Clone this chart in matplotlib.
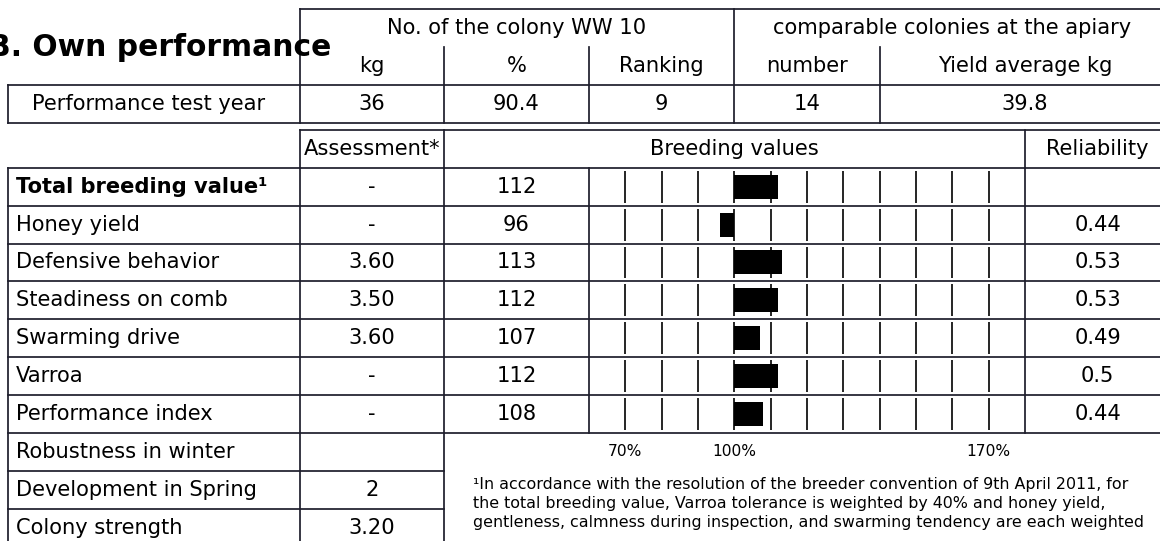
import matplotlib
matplotlib.use("Agg")
import matplotlib.pyplot as plt

# ---------------- data ----------------
title = "B. Own performance"
colony_header = "No. of the colony WW 10"
comparable_header = "comparable colonies at the apiary"
sub_headers = ["kg", "%", "Ranking", "number", "Yield average kg"]
perf_row_label = "Performance test year"
perf_values = ["36", "90.4", "9", "14", "39.8"]

trait_names = ["Total breeding value¹", "Honey yield", "Defensive behavior",
               "Steadiness on comb", "Swarming drive", "Varroa",
               "Performance index", "Robustness in winter",
               "Development in Spring", "Colony strength"]
assessments = ["-", "-", "3.60", "3.50", "3.60", "-", "-", "", "2", "3.20"]
breeding_values = [112, 96, 113, 112, 107, 112, 108]
reliability = ["", "0.44", "0.53", "0.53", "0.49", "0.5", "0.44"]
scale_ticks = [70, 80, 90, 100, 110, 120, 130, 140, 150, 160, 170]
scale_labels = [70, 100, 170]
footnote_lines = [
    "¹In accordance with the resolution of the breeder convention of 9th April 2011, for",
    "the total breeding value, Varroa tolerance is weighted by 40% and honey yield,",
    "gentleness, calmness during inspection, and swarming tendency are each weighted",
]

# ---------------- layout ----------------
W, H = 1160, 541
fig = plt.figure(figsize=(W / 100, H / 100), dpi=100)
ax = fig.add_axes([0, 0, 1, 1])
ax.set_xlim(0, W)
ax.set_ylim(H, 0)
ax.axis("off")

LC = "#1e1e2c"
LW = 1.25
FS = 15.1
TC = "black"


def hline(y, x0, x1):
    ax.plot([x0, x1], [y, y], color=LC, lw=LW, solid_capstyle="projecting", clip_on=False)


def vline(x, y0, y1):
    ax.plot([x, x], [y0, y1], color=LC, lw=LW, solid_capstyle="projecting", clip_on=False)


def ctext(x, y, s, **kw):
    ax.text(x, y, s, ha="center", va="center", fontsize=kw.pop("fontsize", FS),
            color=TC, **kw)


# title
ax.text(-12, 56, title, ha="left", va="baseline", fontsize=21.4,
        fontweight="bold", color=TC, zorder=5)

# ---- top table ----
XR = 1170
top_y = [9.3, 47, 85, 123]
top_cols = [300, 444, 589, 734, 880, XR]
hline(top_y[0], 300, XR)
hline(top_y[2], 8, XR)
hline(top_y[3], 8, XR)
vline(8, top_y[2], top_y[3])
vline(300, top_y[0], top_y[3])
vline(734, top_y[0], top_y[3])
for x in [444, 589, 880]:
    vline(x, top_y[1], top_y[3])

ctext((300 + 734) / 2, 28, colony_header)
ctext((734 + XR) / 2, 28, comparable_header)
for i, s in enumerate(sub_headers):
    ctext((top_cols[i] + top_cols[i + 1]) / 2, 66, s)
for i, s in enumerate(perf_values):
    ctext((top_cols[i] + top_cols[i + 1]) / 2, 104, s)
ctext(149, 104, perf_row_label)

# ---- second table ----
T2 = 130
RH = 37.9
R0 = 167.7
n_rows = len(trait_names)
n_bar = len(breeding_values)
row_y = [R0 + i * RH for i in range(n_rows + 1)]

# header row
hline(T2, 300, XR)
vline(300, T2, R0)
vline(444, T2, R0)
vline(1025, T2, R0)
ctext(372, (T2 + R0) / 2, "Assessment*")
ctext((444 + 1025) / 2, (T2 + R0) / 2, "Breeding values")
ctext((1025 + XR) / 2, (T2 + R0) / 2, "Reliability")

# horizontal row lines
for i, y in enumerate(row_y):
    if i <= n_bar:
        hline(y, 8, XR)
    else:
        hline(y, 8, 444)
vline(8, R0, row_y[-1])
vline(300, R0, row_y[-1])
vline(444, R0, row_y[-1])
vline(589, R0, row_y[n_bar])
vline(1025, R0, row_y[n_bar])

for i, name in enumerate(trait_names):
    yc = (row_y[i] + row_y[i + 1]) / 2
    ax.text(15.5, yc, name, ha="left", va="center", fontsize=FS, color=TC,
            fontweight="bold" if i == 0 else "normal")
    if assessments[i]:
        ctext(372, yc, assessments[i])
for i in range(n_bar):
    yc = (row_y[i] + row_y[i + 1]) / 2
    ctext(516.5, yc, str(breeding_values[i]))
    if reliability[i]:
        ctext((1025 + XR) / 2, yc, reliability[i])

# ---- bar area ----
bx0, bx1 = 589, 1025
bax = fig.add_axes([bx0 / W, 1 - row_y[n_bar] / H, (bx1 - bx0) / W,
                    (row_y[n_bar] - R0) / H])
bax.set_xlim(60, 180)
bax.set_ylim(n_bar, 0)
bax.axis("off")
gap = 0.5 - 3 / RH
for i in range(n_bar):
    bax.vlines(scale_ticks, i + 0.5 - gap, i + 0.5 + gap, color="black", lw=1.2)
bax.barh([i + 0.5 for i in range(n_bar)], [v - 100 for v in breeding_values],
         left=100, height=24 / RH, color="black", zorder=3)
for v in scale_labels:
    bax.text(v, n_bar + 0.5, f"{v}%", ha="center", va="center", fontsize=11.2,
             color=TC, clip_on=False)

for k, line in enumerate(footnote_lines):
    ax.text(473, 485 + k * 18.8, line, ha="left", va="center", fontsize=11.4,
            color=TC)

fig.savefig("out.png", dpi=100)
